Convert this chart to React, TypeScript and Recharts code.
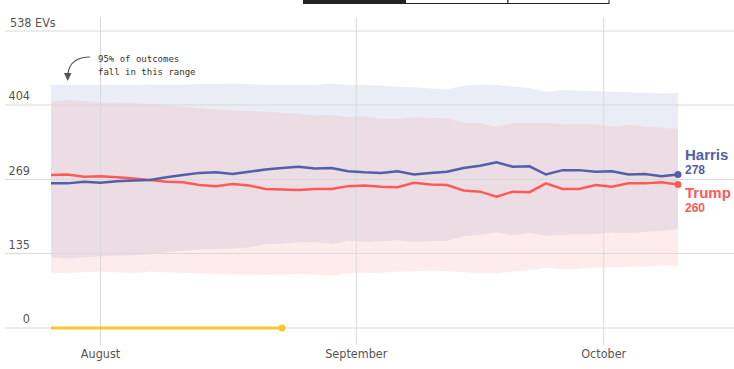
import { Area, ComposedChart, Line, ReferenceLine, XAxis, YAxis } from "recharts";

// day offsets from Aug 1, every other day
const days = [-6, -4, -2, 0, 2, 4, 6, 8, 10, 12, 14, 16, 18, 20, 22, 24, 26, 28, 30, 32, 34, 36, 38, 40, 42, 44, 46, 48, 50, 52, 54, 56, 58, 60, 62, 64, 66, 68, 70];

const harris = [262, 262, 265, 263, 266, 267, 268, 273, 277, 281, 282, 279, 283, 287, 290, 292, 289, 290, 284, 282, 281, 284, 278, 281, 283, 290, 294, 300, 292, 293, 278, 286, 286, 283, 284, 278, 279, 275, 278];
const trump = [277, 278, 274, 275, 273, 271, 268, 265, 264, 259, 257, 261, 258, 252, 251, 250, 252, 252, 257, 258, 256, 255, 263, 260, 259, 249, 247, 238, 247, 246, 262, 252, 252, 259, 256, 262, 262, 264, 260];

const harrisHi = [440, 440, 440, 440, 440, 440, 441, 441, 441, 442, 442, 443, 442, 440, 440, 440, 440, 443, 440, 440, 439, 437, 436, 434, 432, 439, 441, 440, 437, 435, 428, 431, 430, 429, 428, 427, 426, 425, 426];
const harrisLo = [128, 126, 128, 130, 131, 132, 134, 137, 140, 142, 143, 144, 146, 152, 153, 155, 156, 152, 158, 156, 157, 159, 156, 157, 158, 166, 169, 173, 168, 172, 167, 169, 170, 170, 173, 172, 174, 176, 179];
const trumpHi = [410, 413, 411, 409, 408, 407, 406, 404, 401, 398, 396, 394, 393, 392, 390, 388, 385, 386, 382, 384, 379, 379, 382, 381, 380, 372, 371, 365, 371, 371, 372, 369, 369, 369, 365, 368, 365, 363, 360];
const trumpLo = [100, 99, 101, 102, 101, 99, 102, 101, 100, 99, 98, 97, 97, 96, 97, 98, 97, 94, 99, 99, 100, 102, 103, 104, 103, 101, 99, 99, 102, 105, 109, 106, 107, 109, 110, 111, 111, 114, 112];

const tracker = [0, 0, 0, 0, 0, 0, 0, 0, 0, 0, 0, 0, 0, 0, 0, null, null, null, null, null, null, null, null, null, null, null, null, null, null, null, null, null, null, null, null, null, null, null, null];

const monthTicks = [0, 31, 61];
const monthLabels = ["August", "September", "October"];
const evTicks = [0, 135, 269, 404, 538];

const data = days.map((day, i) => ({
  day,
  harris: harris[i],
  trump: trump[i],
  harrisBand: [harrisLo[i], harrisHi[i]],
  trumpBand: [trumpLo[i], trumpHi[i]],
  tracker: tracker[i],
}));

const BLUE = "#5061a9";
const RED = "#ff5a55";
const YELLOW = "#fbc52c";
const GRID = "#d9d9d9";
const tickFont = "'DejaVu Sans Condensed', 'Liberation Sans Narrow', 'DejaVu Sans', sans-serif";

const lastDot = (lastIndex: number, color: string) => (props: any) => {
  const { cx, cy, index } = props;
  if (index !== lastIndex || cx == null || cy == null) return <g key={`d${index}`} />;
  return <circle key={`d${index}`} cx={cx} cy={cy} r={3.5} fill={color} stroke="none" />;
};

const XTick = (props: any) => {
  const { x, payload } = props;
  const i = monthTicks.indexOf(payload.value);
  return (
    <text x={x} y={358} textAnchor="middle" fontFamily={tickFont} fontStretch="condensed" fontSize={12.5} fill="#555">
      {monthLabels[i]}
    </text>
  );
};

const YTick = (props: any) => {
  const { y, payload } = props;
  if (payload.value === 538) {
    return (
      <text x={10} y={y - 4.5} textAnchor="start" fontFamily={tickFont} fontStretch="condensed" fontSize={12.5} fill="#555">
        538 EVs
      </text>
    );
  }
  return (
    <text x={30} y={y - 4.5} textAnchor="end" fontFamily={tickFont} fontStretch="condensed" fontSize={12.5} fill="#555">
      {payload.value}
    </text>
  );
};

export default function App() {
  const last = days.length - 1;
  const trackerLast = tracker.filter((v) => v !== null).length - 1;
  return (
    <div style={{ position: "absolute", left: 0, top: 0, width: 734, height: 369, background: "#fff" }}>
      <ComposedChart width={734} height={369} data={data} margin={{ top: 17, right: 0, bottom: 0, left: 4 }}>
        <XAxis
          type="number"
          dataKey="day"
          domain={[-11.58, 76.79]}
          ticks={monthTicks}
          allowDataOverflow
          height={24}
          axisLine={false}
          tickLine={false}
          tick={<XTick />}
        />
        <YAxis
          type="number"
          domain={[-30.8, 563.4]}
          ticks={evTicks}
          allowDataOverflow
          width={1}
          axisLine={false}
          tickLine={false}
          tick={<YTick />}
        />
        {evTicks.map((v) => (
          <ReferenceLine key={`h${v}`} y={v} stroke={GRID} strokeWidth={1} />
        ))}
        {monthTicks.map((d) => (
          <ReferenceLine key={`v${d}`} x={d} stroke={GRID} strokeWidth={1} />
        ))}
        <Area dataKey="harrisBand" type="linear" stroke="none" fill="#5b6bb5" fillOpacity={0.12} isAnimationActive={false} />
        <Area dataKey="trumpBand" type="linear" stroke="none" fill="#f86262" fillOpacity={0.12} isAnimationActive={false} />
        <Line dataKey="tracker" type="linear" stroke={YELLOW} strokeWidth={3} dot={lastDot(trackerLast, YELLOW)} activeDot={false} connectNulls={false} isAnimationActive={false} />
        <Line dataKey="trump" type="linear" stroke={RED} strokeWidth={2.5} dot={lastDot(last, RED)} activeDot={false} isAnimationActive={false} />
        <Line dataKey="harris" type="linear" stroke={BLUE} strokeWidth={2.5} dot={lastDot(last, BLUE)} activeDot={false} isAnimationActive={false} />
      </ComposedChart>
      <svg width={734} height={369} style={{ position: "absolute", left: 0, top: 0, pointerEvents: "none" }}>
        {/* tab bar fragment at the top */}
        <rect x={303} y={0} width={102} height={4} fill="#222" />
        <rect x={405.5} y={-10} width={102.5} height={13.5} fill="#fff" stroke="#222" strokeWidth={1} />
        <rect x={508} y={-10} width={101} height={13.5} fill="#fff" stroke="#222" strokeWidth={1} />
        {/* annotation */}
        <path d="M90 57 C78 57 70 61 68 73" fill="none" stroke="#555" strokeWidth={1.2} />
        <path d="M64 73 L71.5 73 L67.7 81 Z" fill="#555" />
        <text x={98} y={62} fontFamily="'DejaVu Sans Mono', monospace" fontSize={9} fill="#333">95% of outcomes</text>
        <text x={98} y={75} fontFamily="'DejaVu Sans Mono', monospace" fontSize={9} fill="#333">fall in this range</text>
        {/* end labels */}
        <text x={685} y={160} fontFamily="'Liberation Sans', Arial, sans-serif" fontWeight="bold" fontSize={15} fill={BLUE}>Harris</text>
        <text x={685} y={174} fontFamily="'Liberation Sans', Arial, sans-serif" fontWeight="bold" fontSize={12} fill={BLUE}>{harris[last]}</text>
        <text x={685} y={198} fontFamily="'Liberation Sans', Arial, sans-serif" fontWeight="bold" fontSize={15} fill={RED}>Trump</text>
        <text x={685} y={212} fontFamily="'Liberation Sans', Arial, sans-serif" fontWeight="bold" fontSize={12} fill={RED}>{trump[last]}</text>
      </svg>
    </div>
  );
}
